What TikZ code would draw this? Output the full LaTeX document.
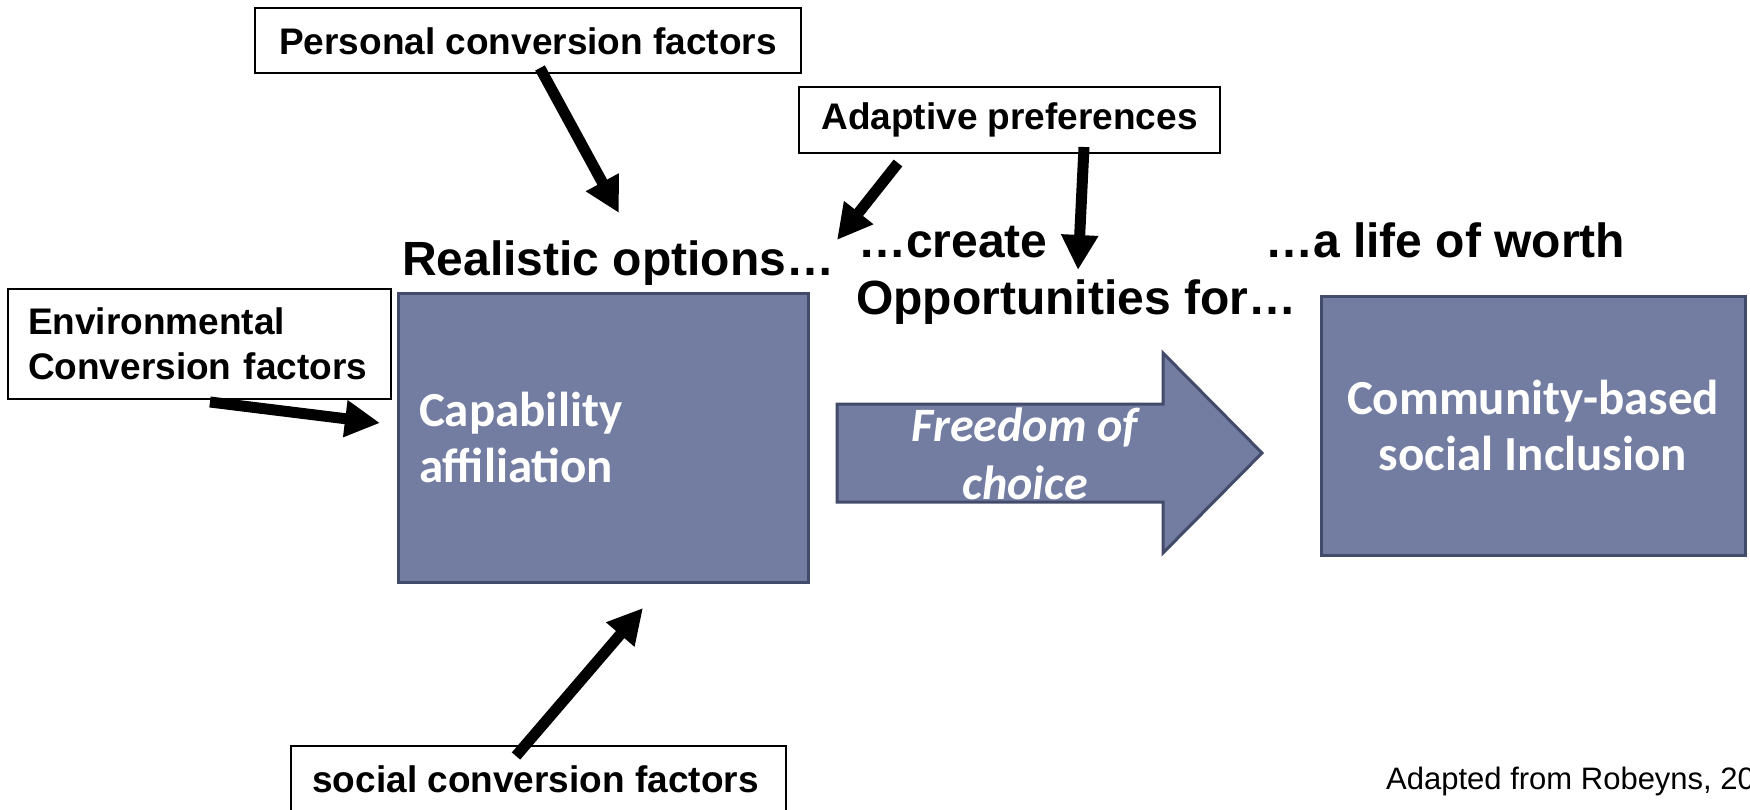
\documentclass[tikz,border=0pt]{standalone}
\usepackage{fontspec}
\setmainfont{Liberation Sans}
\newfontfamily\calibri{Carlito}
\usetikzlibrary{arrows.meta,positioning}

\definecolor{slate}{HTML}{737CA1}
\definecolor{slateline}{HTML}{434B6B}

\tikzset{
  factor/.style={draw=black, line width=2pt, fill=white, inner sep=0pt,
    font=\bfseries\fontsize{37}{44}\selectfont},
  block/.style={draw=slateline, line width=3pt, fill=slate, text=white, inner sep=0pt,
    font=\calibri\bfseries\fontsize{49}{56}\selectfont},
  heading/.style={inner sep=0pt, anchor=base west, font=\bfseries\fontsize{48}{52}\selectfont},
  push/.style={line width=11pt, -{Triangle[length=35pt,width=35pt]}}
}

\begin{document}
\begin{tikzpicture}[x=1pt, y=-1pt]
        \useasboundingbox (0,0) rectangle (1750,810);

        % Define boxes
        \node[block, minimum width=410, minimum height=289, text width=368, align=left] (Cap) at (603,437.5) {Capability\\affiliation};
        \node[block, minimum width=424, minimum height=259, align=center] (Comm) at (1533,425.5) {Community-based\\social Inclusion};

        % Freedom arrow
        \draw[draw=slateline, line width=3pt, fill=slate, line join=miter]
          (837,404) -- (1163,404) -- (1163,353) -- (1262,453) -- (1163,553) -- (1163,502) -- (837,502) -- cycle;
        \node[text=white, align=center, inner sep=0pt, font=\calibri\bfseries\itshape\fontsize{48}{58}\selectfont] (Free) at (1025,454) {Freedom of\\choice};

        % Conversion factors
        \node[factor, minimum width=546, minimum height=65] (Pers) at (528,41) {Personal conversion factors};
        \node[factor, minimum width=421, minimum height=66] (Adapt) at (1009.5,120) {\raisebox{-4pt}{Adaptive preferences}};
        \node[factor, minimum width=383, minimum height=110, text width=343, align=left,
          font=\bfseries\fontsize{37}{45}\selectfont] (Env) at (199.5,344) {Environmental\\Conversion factors};
        \node[factor, minimum width=495, minimum height=66] (Soc) at (538.5,779) {\hspace*{-6pt}social conversion factors};

        % Headings
        \node[heading] (Real) at (402,276) {Realistic options…};
        \node[heading] (Create) at (858,258) {…create};
        \node[heading] (Opp) at (856,314) {Opportunities for…};
        \node[heading] (Life) at (1265,258) {…a life of worth};

        \node[inner sep=0pt, anchor=base west, font=\fontsize{31}{36}\selectfont] (Src) at (1386,789) {Adapted from Robeyns, 2005};

        % Arrow ends
        \coordinate (PersTail) at (540,68);
        \coordinate (PersTip) at (619,213);
        \coordinate (AdaptTailA) at (898,163);
        \coordinate (AdaptTipA) at (837,240);
        \coordinate (AdaptTailB) at (1084,147);
        \coordinate (AdaptTipB) at (1078,270);
        \coordinate (EnvTail) at (210,402);
        \coordinate (EnvTip) at (380,423);
        \coordinate (SocTail) at (516,756);
        \coordinate (SocTip) at (643,608);

        \path[push]
        % factors pushing on the options
        (PersTail) edge (PersTip)
        (AdaptTailA) edge (AdaptTipA)
        (AdaptTailB) edge (AdaptTipB)
        (EnvTail) edge (EnvTip)
        (SocTail) edge (SocTip);

    \end{tikzpicture}
\end{document}
